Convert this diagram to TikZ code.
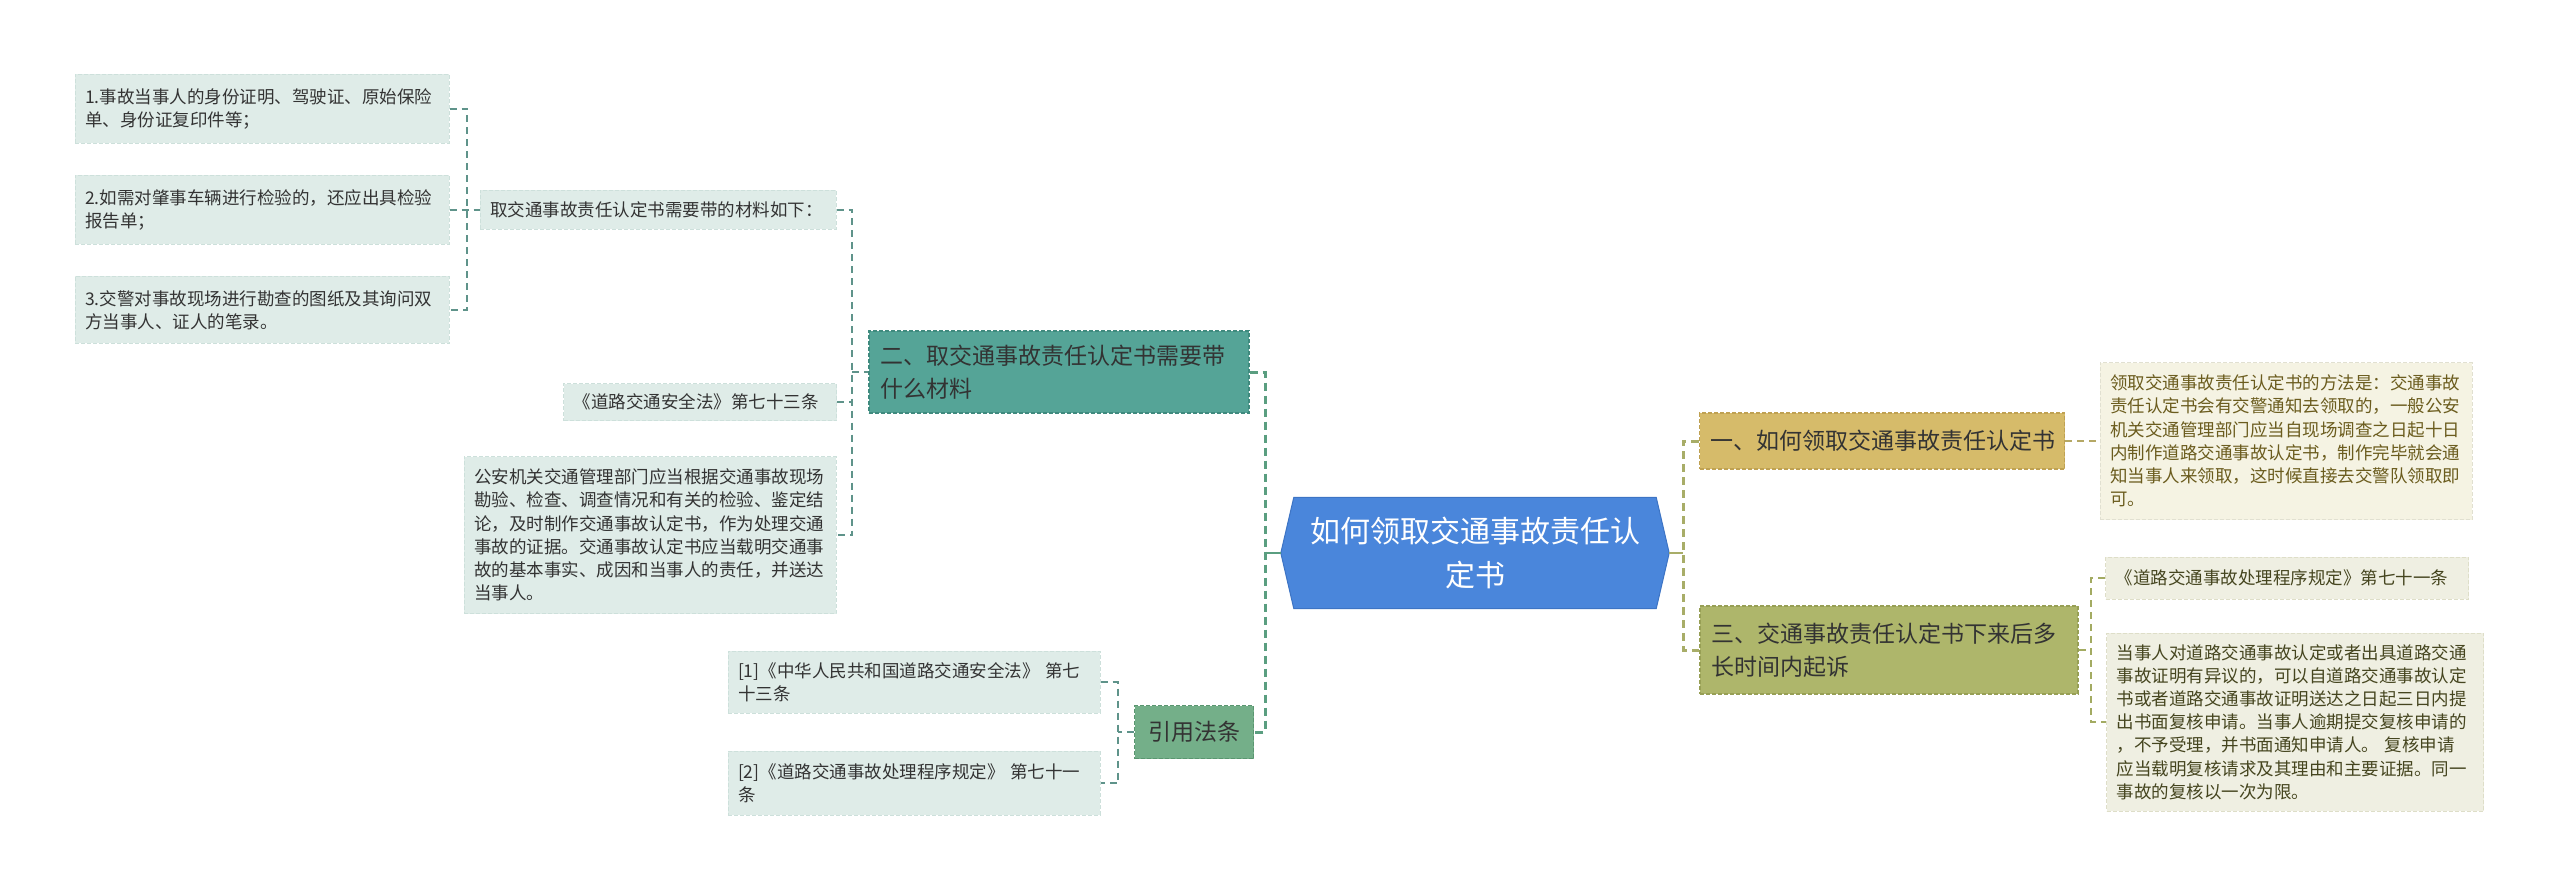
\documentclass[tikz,border=0pt]{standalone}
\usepackage{fontspec}
\newfontfamily\cjk{Noto Sans CJK SC}
\usetikzlibrary{backgrounds,calc}
\definecolor{lfill}{HTML}{DFECE8}
\definecolor{lline}{HTML}{CDE0DB}
\definecolor{ltext}{HTML}{333333}
\definecolor{rfill}{HTML}{EFEFE2}
\definecolor{rline}{HTML}{DEDEC8}
\definecolor{rtext}{HTML}{45451F}
\definecolor{d1fill}{HTML}{F5F3E3}
\definecolor{d1text}{HTML}{6B5C1E}
\definecolor{btwo}{HTML}{55A497}
\definecolor{btwoline}{HTML}{3F8A7E}
\definecolor{bfour}{HTML}{74AF89}
\definecolor{bfourline}{HTML}{5A9670}
\definecolor{bone}{HTML}{D6BB6A}
\definecolor{boneline}{HTML}{BFA152}
\definecolor{bthree}{HTML}{AEB66B}
\definecolor{bthreeline}{HTML}{979F55}
\definecolor{rootblue}{HTML}{4A86DB}
\definecolor{rootline}{HTML}{3D74C4}
\definecolor{connl}{HTML}{5F938A}
\definecolor{connlmain}{HTML}{5A9E80}
\definecolor{connr}{HTML}{B5A865}
\definecolor{connrmain}{HTML}{A8AD68}
\definecolor{connr3}{HTML}{A3AB62}
\tikzset{
  small/.style={font=\cjk\fontsize{17.5}{23.2}\selectfont, align=left, inner xsep=10pt, inner ysep=4pt},
  leftbox/.style={small, fill=lfill, draw=lline, dash pattern=on 4pt off 2pt, line width=1pt, text=ltext},
  rightbox/.style={small, fill=rfill, draw=rline, dash pattern=on 4pt off 2pt, line width=1pt, text=rtext},
  donebox/.style={small, fill=d1fill, draw=d1fill!92!black, dash pattern=on 4pt off 2pt, line width=1pt, text=d1text},
  mainbox/.style={font=\cjk\fontsize{23}{33}\selectfont, align=left, inner xsep=11pt, dash pattern=on 4pt off 2pt, line width=1.2pt},
  connL/.style={draw=connl, line width=1.8pt, dash pattern=on 7pt off 5pt},
  connR/.style={draw=connr, line width=1.8pt, dash pattern=on 7pt off 5pt},
  connRt/.style={draw=connr3, line width=1.8pt, dash pattern=on 7pt off 5pt},
  connLmain/.style={draw=connlmain, line width=3pt, dash pattern=on 8pt off 5pt},
  connRmain/.style={draw=connrmain, line width=3pt, dash pattern=on 8pt off 5pt},
}
\begin{document}
\begin{tikzpicture}[x=1pt,y=-1pt]
\useasboundingbox (0,0) rectangle (2560,893);
% left detail boxes
\node[leftbox, text width=354pt, minimum height=69pt] (L1) at (262,109) {1.事故当事人的身份证明、驾驶证、原始保险\\单、身份证复印件等；};
\node[leftbox, text width=354pt, minimum height=69pt] (L2) at (262,210) {2.如需对肇事车辆进行检验的，还应出具检验\\报告单；};
\node[leftbox, text width=354pt, minimum height=67pt] (L3) at (262,310) {3.交警对事故现场进行勘查的图纸及其询问双\\方当事人、证人的笔录。};
\node[leftbox, text width=336pt, minimum height=39pt] (M1) at (658,210) {取交通事故责任认定书需要带的材料如下：};
\node[leftbox, text width=253pt, minimum height=37pt] (M2) at (700,402) {《道路交通安全法》第七十三条};
\node[leftbox, text width=352pt, minimum height=157pt] (M3) at (650,535) {公安机关交通管理部门应当根据交通事故现场\\勘验、检查、调查情况和有关的检验、鉴定结\\论，及时制作交通事故认定书，作为处理交通\\事故的证据。交通事故认定书应当载明交通事\\故的基本事实、成因和当事人的责任，并送达\\当事人。};
\node[mainbox, fill=btwo, draw=btwoline, text=black!80, text width=358pt, minimum height=82pt] (B2) at (1059,372) {二、取交通事故责任认定书需要带\\什么材料};
\node[leftbox, text width=352pt, minimum height=62pt] (R1) at (914,682) {[1]《中华人民共和国道路交通安全法》~第七\\十三条};
\node[leftbox, text width=352pt, minimum height=64pt] (R2) at (914,783) {[2]《道路交通事故处理程序规定》~第七十一\\条};
\node[mainbox, fill=bfour, draw=bfourline, text=black!80, minimum width=119pt, minimum height=53pt, align=center] (B4) at (1194,732) {引用法条};
% root
\node[font=\cjk\fontsize{30}{44}\selectfont, text=white, align=center, minimum width=362pt, minimum height=111pt, inner sep=0pt] (root) at (1475,553) {如何领取交通事故责任认\\定书};
\begin{scope}[on background layer]
\path[fill=rootblue, draw=rootline, line width=1pt] (root.north west) -- (root.north east) -- ([xshift=13pt]root.east) -- (root.south east) -- (root.south west) -- ([xshift=-13pt]root.west) -- cycle;
\end{scope}
% right side
\node[mainbox, fill=bone, draw=boneline, text=black!80, text width=343pt, minimum height=56pt] (B1) at (1882,441) {一、如何领取交通事故责任认定书};
\node[mainbox, fill=bthree, draw=bthreeline, text=black!80, text width=356pt, minimum height=88pt] (B3) at (1889,650) {三、交通事故责任认定书下来后多\\长时间内起诉};
\node[donebox, text width=352pt, minimum height=157pt] (D1) at (2286,441) {领取交通事故责任认定书的方法是：交通事故\\责任认定书会有交警通知去领取的，一般公安\\机关交通管理部门应当自现场调查之日起十日\\内制作道路交通事故认定书，制作完毕就会通\\知当事人来领取，这时候直接去交警队领取即\\可。};
\node[rightbox, text width=343pt, minimum height=42pt] (D2) at (2287,578) {《道路交通事故处理程序规定》第七十一条};
\node[rightbox, text width=357pt, minimum height=178pt] (D3) at (2295,722) {当事人对道路交通事故认定或者出具道路交通\\事故证明有异议的，可以自道路交通事故认定\\书或者道路交通事故证明送达之日起三日内提\\出书面复核申请。当事人逾期提交复核申请的\\，不予受理，并书面通知申请人。 复核申请\\应当载明复核请求及其理由和主要证据。同一\\事故的复核以一次为限。};
% bracket coordinates
\coordinate (kL) at (467,0);
\coordinate (kM) at (852,0);
\coordinate (kRL) at (1265,0);
\coordinate (kR) at (1118,0);
\coordinate (kRR) at (1683,0);
\coordinate (kD) at (2091,0);
% connectors left
\draw[connL] (L1.east) -- (L1.east -| kL) -- (L3.east -| kL) -- (L3.east);
\draw[connL] (L2.east) -- (M1.west);
\draw[connL] (M1.east) -- (M1.east -| kM) -- (M3.east -| kM) -- (M3.east);
\draw[connL] (M2.east) -- (M2.east -| kM);
\draw[connL] (kM |- B2.west) -- (B2.west);
\draw[connLmain] (B2.east) -- (B2.east -| kRL) -- (B4.east -| kRL) -- (B4.east);
\draw[draw=connlmain, line width=2.5pt] ([xshift=-13pt]root.west) -- (root.west -| kRL);
\draw[connL] (R1.east) -- (R1.east -| kR) -- (R2.east -| kR) -- (R2.east);
\draw[connL] (B4.west) -- (B4.west -| kR);
% connectors right
\draw[draw=connrmain, line width=2.5pt] ([xshift=13pt]root.east) -- (root.east -| kRR);
\draw[connRmain] (B1.west) -- (B1.west -| kRR) -- (B3.west -| kRR) -- (B3.west);
\draw[connR] (B1.east) -- (D1.west);
\draw[connRt] (D2.west) -- (D2.west -| kD) -- (D3.west -| kD) -- (D3.west);
\draw[connRt] (B3.east) -- (B3.east -| kD);
\end{tikzpicture}
\end{document}
